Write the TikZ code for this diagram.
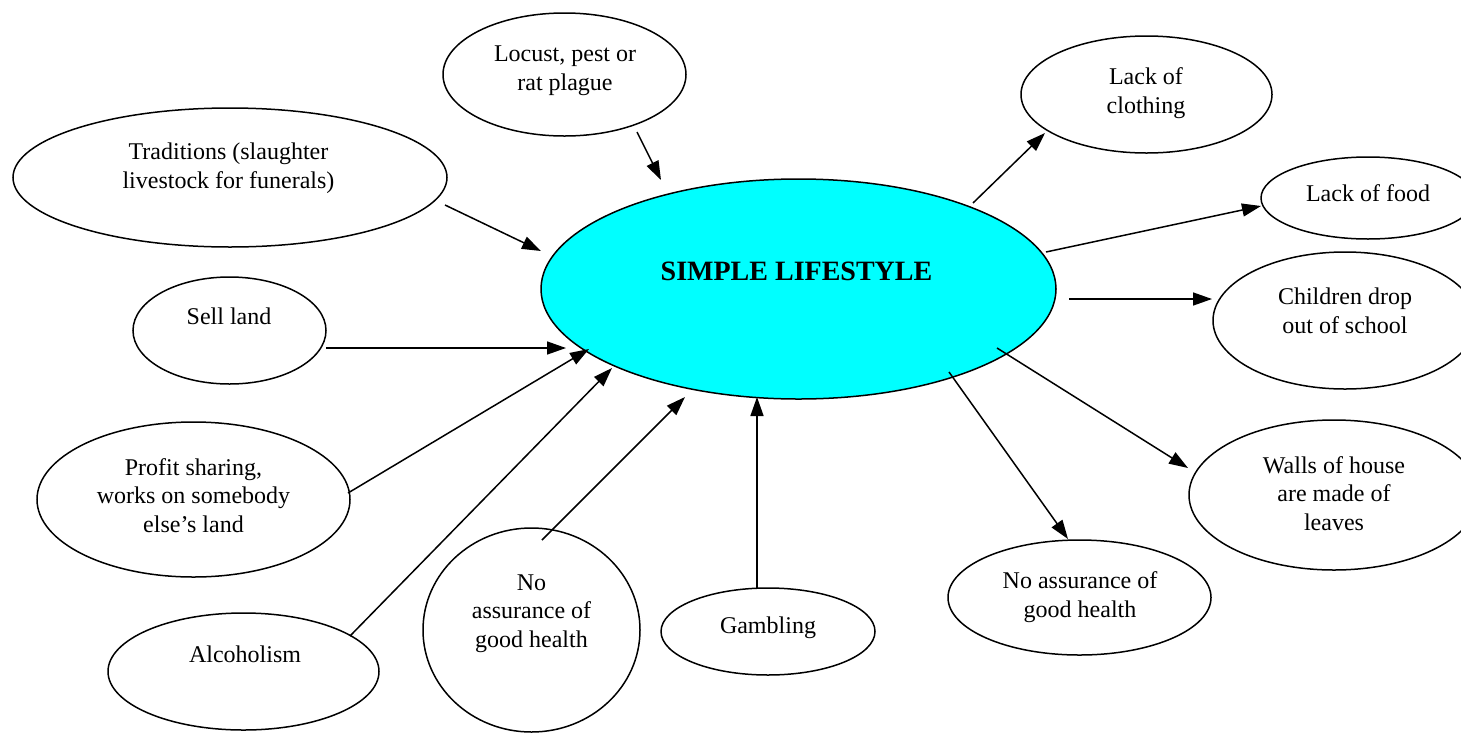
\documentclass[tikz,border=0pt]{standalone}
\usepackage{fontspec}
\setmainfont{Liberation Serif}
\usetikzlibrary{arrows.meta,shapes.geometric}
\definecolor{cyanfill}{RGB}{0,255,255}
\tikzset{
  bubble/.style={draw, ellipse, line width=1.5pt, inner sep=0pt, outer sep=0pt},
  lbl/.style={anchor=base, align=center, inner sep=0pt, font=\fontsize{24pt}{28.5pt}\selectfont},
  arr/.style={line width=1.5pt, -{Triangle[length=19pt,width=13pt]}},
}
\begin{document}
\begin{tikzpicture}[x=1pt,y=-1pt]
\fill[white] (0,0) rectangle (1461,737);
\useasboundingbox (0,0) rectangle (1461,737);
\clip (0,0) rectangle (1461,737);

% ellipses
\node[bubble, fill=cyanfill, minimum width=515pt, minimum height=220pt] (core) at (798.5,289) {};
\node[bubble, minimum width=243pt, minimum height=123pt] (locust) at (564.5,74.5) {};
\node[bubble, minimum width=251pt, minimum height=117pt] (clothing) at (1146.5,94.5) {};
\node[bubble, minimum width=214pt, minimum height=82pt] (food) at (1368,198) {};
\node[bubble, minimum width=264pt, minimum height=137pt] (children) at (1345,320.5) {};
\node[bubble, minimum width=290pt, minimum height=150pt] (walls) at (1334,495) {};
\node[bubble, minimum width=263pt, minimum height=115pt] (healthR) at (1079.5,597.5) {};
\node[bubble, minimum width=214pt, minimum height=87pt] (gambling) at (768,631.5) {};
\node[bubble, minimum width=217pt, minimum height=204pt] (healthL) at (531.5,630) {};
\node[bubble, minimum width=271pt, minimum height=117pt] (alcohol) at (243.5,671.5) {};
\node[bubble, minimum width=313pt, minimum height=155pt] (profit) at (193.5,499.5) {};
\node[bubble, minimum width=193pt, minimum height=107pt] (sell) at (229.5,330.5) {};
\node[bubble, minimum width=434pt, minimum height=139pt] (trad) at (230,177.5) {};

% texts (anchored at baseline of last line)
\node[lbl, font=\fontsize{28pt}{32pt}\selectfont\bfseries] (core-t) at (796.5,280) {SIMPLE LIFESTYLE};
\node[lbl] (locust-t) at (565,90) {Locust, pest or\\rat plague};
\node[lbl] (clothing-t) at (1146,113) {Lack of\\clothing};
\node[lbl] (food-t) at (1368,201) {Lack of food};
\node[lbl] (children-t) at (1345,333) {Children drop\\out of school};
\node[lbl] (walls-t) at (1334,530) {Walls of house\\are made of\\leaves};
\node[lbl] (healthR-t) at (1080,617) {No assurance of\\good health};
\node[lbl] (gambling-t) at (768,633) {Gambling};
\node[lbl] (healthL-t) at (531.5,647) {No\\assurance of\\good health};
\node[lbl] (alcohol-t) at (245,662) {Alcoholism};
\node[lbl] (profit-t) at (193.5,532) {Profit sharing,\\works on somebody\\else’s land};
\node[lbl] (sell-t) at (229,324) {Sell land};
\node[lbl] (trad-t) at (228.5,188) {Traditions (slaughter\\livestock for funerals)};

% connector ends
\coordinate (locust-o) at (637,132);   \coordinate (core-i1) at (661,180);
\coordinate (trad-o) at (445,205);     \coordinate (core-i2) at (541,251);
\coordinate (sell-o) at (326,348);     \coordinate (core-i3) at (566,348);
\coordinate (profit-o) at (348,493);   \coordinate (core-i4) at (589,349);
\coordinate (alcohol-o) at (350,636);  \coordinate (core-i5) at (612,368);
\coordinate (healthL-o) at (542,540);  \coordinate (core-i6) at (685,397);
\coordinate (gambling-o) at (757,588); \coordinate (core-i7) at (757,397);
\coordinate (core-o1) at (973,203);    \coordinate (clothing-i) at (1045,133);
\coordinate (core-o2) at (1046,252);   \coordinate (food-i) at (1261,206);
\coordinate (core-o3) at (1069,299);   \coordinate (children-i) at (1212,299);
\coordinate (core-o4) at (997,348);    \coordinate (walls-i) at (1188,468);
\coordinate (core-o5) at (949,372);    \coordinate (healthR-i) at (1068,539);

% connectors
\draw[arr] (locust-o) -- (core-i1);
\draw[arr] (trad-o) -- (core-i2);
\draw[arr] (sell-o) -- (core-i3);
\draw[arr] (profit-o) -- (core-i4);
\draw[arr] (alcohol-o) -- (core-i5);
\draw[arr] (healthL-o) -- (core-i6);
\draw[arr] (gambling-o) -- (core-i7);
\draw[arr] (core-o1) -- (clothing-i);
\draw[arr] (core-o2) -- (food-i);
\draw[arr] (core-o3) -- (children-i);
\draw[arr] (core-o4) -- (walls-i);
\draw[arr] (core-o5) -- (healthR-i);
\end{tikzpicture}
\end{document}
